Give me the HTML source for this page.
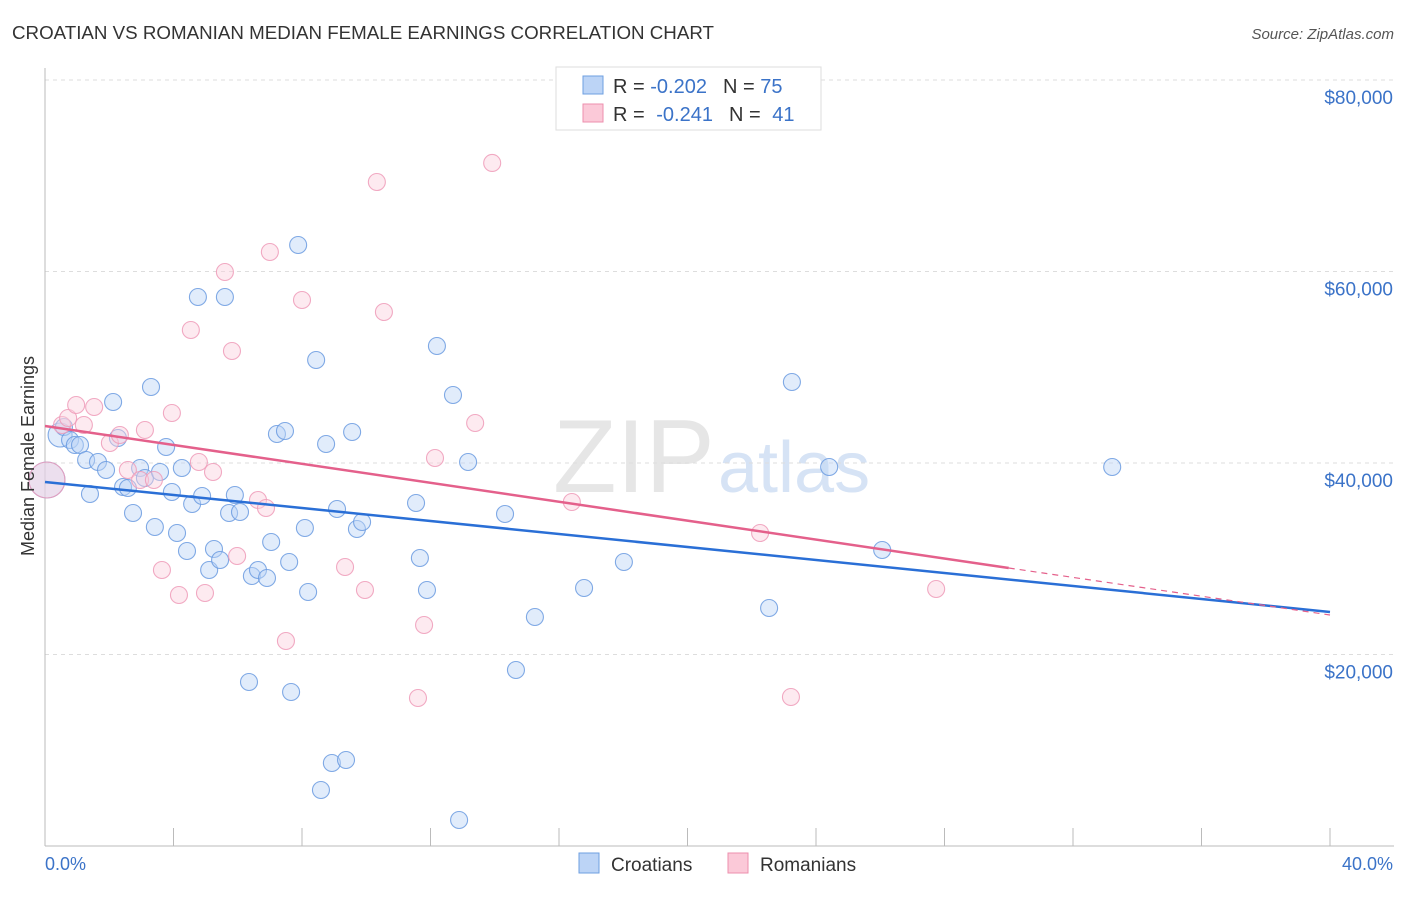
<!DOCTYPE html>
<html><head><meta charset="utf-8"><style>
body{margin:0;background:#fff;font-family:"Liberation Sans",sans-serif;}
svg text{font-family:"Liberation Sans",sans-serif;}
</style></head><body>
<svg id="c" width="1406" height="892">
<text x="12" y="39" font-size="18" fill="#333" textLength="702" lengthAdjust="spacingAndGlyphs">CROATIAN VS ROMANIAN MEDIAN FEMALE EARNINGS CORRELATION CHART</text>
<text x="1394" y="39" font-size="15" fill="#555" text-anchor="end" font-style="italic">Source: ZipAtlas.com</text>
<text x="553" y="492" font-size="104" fill="#e6e6e6" font-family="Liberation Serif">ZIP</text>
<text x="718" y="492" font-size="72" fill="#d6e3f5">atlas</text>
<g id="grid"></g><g id="axes"></g><g id="pts"></g><g id="trend"></g>
<text transform="translate(34,456) rotate(-90)" font-size="18" fill="#333" text-anchor="middle">Median Female Earnings</text>
<text x="45" y="870" font-size="18" fill="#3b73c8">0.0%</text>
<text x="1393" y="870" font-size="18" fill="#3b73c8" text-anchor="end">40.0%</text>
<g>
<rect x="556" y="67" width="265" height="63" fill="#fff" stroke="#ddd"/>
<rect x="583" y="76" width="20" height="18" fill="#bcd4f6" stroke="#6e9fe0"/>
<rect x="583" y="104" width="20" height="18" fill="#fbc9d8" stroke="#ec8fae"/>
<text x="613" y="93" font-size="20" fill="#333">R = <tspan fill="#3b73c8">-0.202</tspan><tspan dx="16">N = </tspan><tspan fill="#3b73c8">75</tspan></text>
<text x="613" y="121" font-size="20" fill="#333">R = <tspan fill="#3b73c8" dx="6">-0.241</tspan><tspan dx="16">N = </tspan><tspan fill="#3b73c8" dx="6">41</tspan></text>
</g>
<g>
<rect x="579" y="853" width="20" height="20" fill="#bcd4f6" stroke="#6e9fe0"/>
<text x="611" y="871" font-size="19" fill="#333">Croatians</text>
<rect x="728" y="853" width="20" height="20" fill="#fbc9d8" stroke="#ec8fae"/>
<text x="760" y="871" font-size="19" fill="#333">Romanians</text>
</g>
</svg>
<script>
const yTicks=[20000,40000,60000,80000];
const yTickLabels=["$20,000","$40,000","$60,000","$80,000"];
const xTicks=[0,4,8,12,16,20,24,28,32,36,40];
const croX=[0.47,0.59,0.78,0.93,1.09,1.28,1.40,1.65,1.90,2.12,2.27,2.43,2.58,2.74,2.96,3.11,3.30,3.42,3.58,3.77,3.95,4.11,4.26,4.42,4.58,4.76,4.89,5.11,5.26,5.45,5.60,5.73,5.91,6.07,6.35,6.44,6.63,6.91,7.04,7.22,7.47,7.60,7.66,7.88,8.09,8.19,8.44,8.75,8.93,9.09,9.37,9.56,9.71,9.87,8.59,11.55,11.67,11.89,12.20,12.70,12.89,13.17,14.32,14.66,15.25,16.78,18.02,22.54,23.25,24.41,26.06,33.22,0.06];
const croY=[42925,43760,42403,41880,41880,40314,36763,40105,39269,46371,42612,37494,37390,34779,39478,38434,47938,33316,39061,41672,36972,32690,39478,30810,35718,57338,36554,28825,31019,29870,57338,34779,36658,34883,17128,28199,28825,27990,31750,43029,43343,29661,16084,62768,33212,26528,50758,41985,8669,35196,8982,43238,33107,33839,5849,35823,30079,26737,52220,47102,2715,40105,34674,18381,23917,26946,29661,24857,48460,39583,30914,39583,38225];
const romX=[0.06,0.53,0.72,0.97,1.21,1.53,2.02,2.33,2.58,2.96,3.11,3.39,3.64,3.95,4.17,4.54,4.79,4.98,5.23,5.60,5.82,5.98,6.63,6.88,7.00,7.50,8.00,9.34,9.96,10.33,10.55,11.61,11.80,12.14,13.39,13.92,16.40,22.26,23.22,27.74];
const romY=[38225,43969,44700,46058,43969,45849,42089,42925,39269,38225,43447,38225,28825,45223,26214,53891,40105,26423,39061,59949,51698,30288,36136,35301,62037,21410,57024,29139,26737,69348,55771,15457,23081,40523,44178,71333,35927,32690,15562,26841];
const croTrend=[38016,24439];
const romTrend=[43864,29034,24125];
const X=v=>45+v/40*1285, Y=v=>846-v/20000*191.5;
const NS="http://www.w3.org/2000/svg";
function mk(t,a,p){const e=document.createElementNS(NS,t);for(const k in a)e.setAttribute(k,a[k]);p.appendChild(e);return e;}
const g=document.getElementById('grid'),ax=document.getElementById('axes'),pts=document.getElementById('pts'),tr=document.getElementById('trend');
yTicks.forEach((v,i)=>{
 const l=mk('line',{x1:45,x2:1394,y1:Y(v),y2:Y(v),stroke:'#ddd','stroke-dasharray':'4,4'},g);
 
 
 const t=mk('text',{x:1393,y:Y(v)+24,'font-size':19,fill:'#3b73c8','text-anchor':'end'},g);
 t.textContent=yTickLabels[i];
 
 
});
mk('line',{x1:45,x2:1394,y1:846,y2:846,stroke:'#bbb'},ax);
mk('line',{x1:45,x2:45,y1:68,y2:846,stroke:'#bbb'},ax);
xTicks.forEach(v=>{const l=mk('line',{x1:X(v),x2:X(v),y1:828,y2:846,stroke:'#bbb'},ax);
 
 });
function dot(x,y,r,fill,stroke,name){const c=mk('circle',{cx:X(x),cy:Y(y),r:r,fill:fill,'fill-opacity':0.45,stroke:stroke,'stroke-opacity':0.85,'stroke-width':1.1},pts);
 
 }
croX.forEach((x,i)=>dot(x,croY[i],i==croX.length-1?18:(i==0?12:8.5),'#bcd4f6','#6b9be0','croatian-point'));
romX.forEach((x,i)=>dot(x,romY[i],i==0?18:8.5,'#fbd0dd','#ef9bb8','romanian-point'));
const b=mk('line',{x1:X(0),y1:Y(croTrend[0]),x2:X(40),y2:Y(croTrend[1]),stroke:'#2a6fd6','stroke-width':2.5},tr);


const p=mk('line',{x1:X(0),y1:Y(romTrend[0]),x2:X(30),y2:Y(romTrend[1]),stroke:'#e4608b','stroke-width':2.5},tr);


const pd=mk('line',{x1:X(30),y1:Y(romTrend[1]),x2:X(40),y2:Y(romTrend[2]),stroke:'#e4608b','stroke-width':1.2,'stroke-dasharray':'6,5'},tr);


</script>
</body></html>
